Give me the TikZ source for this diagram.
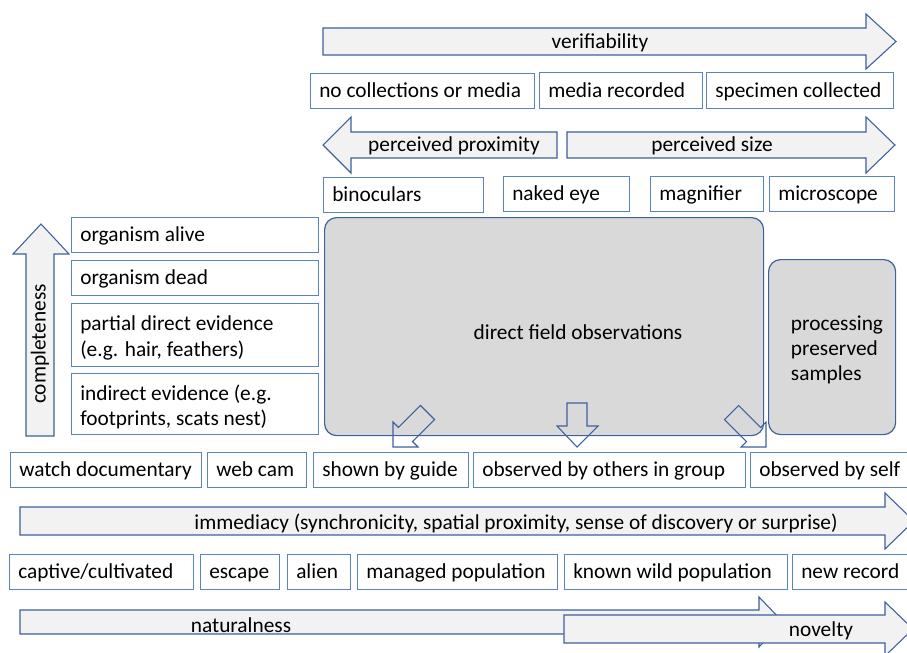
\documentclass[tikz,border=0pt]{standalone}
\usepackage{fontspec}
\setmainfont{Carlito}
\usetikzlibrary{calc}
\usetikzlibrary{positioning}

\definecolor{boxblue}{RGB}{91,130,200}
\definecolor{arrowblue}{RGB}{62,96,158}
\definecolor{arrowfill}{RGB}{242,242,242}
\definecolor{panelgrey}{RGB}{217,217,217}

\tikzset{
    tag/.style={draw=boxblue, fill=white, line width=0.9pt, inner sep=0pt},
    blockarrow/.style={draw=arrowblue, fill=arrowfill, line width=0.8pt, line join=miter},
    panel/.style={draw=arrowblue, fill=panelgrey, line width=0.9pt, rounded corners=9pt},
    smallarrow/.style={draw=arrowblue, line width=0.8pt, line join=miter},
    txt/.style={font=\fontsize{16}{19}\selectfont, inner sep=0pt, align=left},
}

% labelled box from (x1,y1) to (x2,y2), pixel units, text flush left
\newcommand{\tagbox}[6]{%
    \node[tag, anchor=north west, minimum width={(#4-#2)*0.75pt}, minimum height={(#5-#3)*0.75pt}] (#1) at (#2,#3) {};
    \node[txt, anchor=west] (#1txt) at ($(#1.west)+(9,1.5)$) {\strut #6};}

% horizontal block arrow: tail x, head base x, tip x, centre y, body half, head half
\newcommand{\hblock}[6]{%
    \draw[blockarrow] (#1,#4-#5) -- (#2,#4-#5) -- (#2,#4-#6) -- (#3,#4) -- (#2,#4+#6) -- (#2,#4+#5) -- (#1,#4+#5) -- cycle;}

\begin{document}
\begin{tikzpicture}[x=0.75pt, y=-0.75pt]
    \useasboundingbox (0,0) rectangle (907,653);
    \clip (0,0) rectangle (907,653);

    % ---- Verifiability ----
    \hblock{323}{866}{896}{41.5}{13.5}{27.5}
    \node[txt] (verif) at (600,43) {verifiability};

    \tagbox{nocoll}{310}{73}{534}{108}{no collections or media}
    \tagbox{media}{539}{72}{702}{108}{media recorded}
    \tagbox{specimen}{706}{72}{893}{108}{specimen collected}

    % ---- Perceived proximity / size ----
    \hblock{557}{351}{323}{145}{13}{28}
    \node[txt] (prox) at (454,146) {perceived proximity};
    \hblock{567}{866}{895}{145}{13}{28}
    \node[txt] (size) at (712,146) {perceived size};

    \tagbox{binoc}{323}{177}{483}{212}{binoculars}
    \tagbox{naked}{503}{176}{629}{211}{naked eye}
    \tagbox{magnif}{650}{176}{763}{211}{magnifier}
    \tagbox{micro}{769}{176}{894}{211}{microscope}

    % ---- Observation panels ----
    \node[panel, anchor=north west, minimum width={439*0.75pt}, minimum height={218*0.75pt}] (field) at (324,217) {};
    \node[txt] (fieldtxt) at (578,332) {direct field observations};

    \node[panel, anchor=north west, minimum width={127*0.75pt}, minimum height={175*0.75pt}] (proc) at (768,259) {};
    \node[txt] (proctxt) at (837,350) {processing\\preserved\\samples};

    % small arrows out of the field panel
    \draw[smallarrow] (393,447) -- (393,422) -- (398.4,427.4) -- (420.4,405.4) -- (434.6,419.6) -- (412.6,441.6) -- (418,447) -- cycle;
    \draw[smallarrow] (567,403) -- (587,403) -- (587,426) -- (598,426) -- (577,447) -- (557,426) -- (567,426) -- cycle;
    \draw[smallarrow] (766,447) -- (766,422) -- (760.6,427.4) -- (738.6,405.4) -- (724.4,419.6) -- (746.4,441.6) -- (741,447) -- cycle;

    % ---- Completeness ----
    \draw[blockarrow] (26,436) -- (26,254) -- (13,254) -- (41,224) -- (69,254) -- (54,254) -- (54,436) -- cycle;
    \node[txt, rotate=90] (compl) at (40,344) {completeness};

    \tagbox{alive}{71}{217}{318}{252}{organism alive}
    \tagbox{dead}{71}{260}{318}{295}{organism dead}
    \tagbox{partial}{71}{303}{318}{366}{partial direct evidence\\(e.g. hair, feathers)}
    \tagbox{indirect}{71}{373}{318}{434}{indirect evidence (e.g.\\footprints, scats nest)}

    % ---- Who observes ----
    \tagbox{docu}{10}{452}{201}{487}{watch documentary}
    \tagbox{webcam}{207}{452}{306}{487}{web cam}
    \tagbox{guide}{313}{452}{468}{487}{shown by guide}
    \tagbox{group}{473}{452}{745}{487}{observed by others in group}
    \tagbox{self}{750}{452}{915}{487}{observed by self}

    % ---- Immediacy ----
    \hblock{20}{885}{914}{521}{14}{28}
    \node[txt] (immed) at (516,523) {immediacy (synchronicity, spatial proximity, sense of discovery or surprise)};

    \tagbox{captive}{9}{554}{193}{589}{captive/cultivated}
    \tagbox{escape}{200}{554}{279}{589}{escape}
    \tagbox{alien}{287}{554}{350}{589}{alien}
    \tagbox{managed}{357}{554}{557}{589}{managed population}
    \tagbox{wild}{564}{554}{787}{589}{known wild population}
    \tagbox{newrec}{792}{554}{915}{589}{new record}

    % ---- Naturalness / novelty ----
    \hblock{20}{759}{783}{622}{12}{25}
    \node[txt] (natural) at (241,625) {naturalness};
    \hblock{564}{885}{913}{629}{14}{27}
    \node[txt] (novel) at (821,631) {novelty};

\end{tikzpicture}
\end{document}
